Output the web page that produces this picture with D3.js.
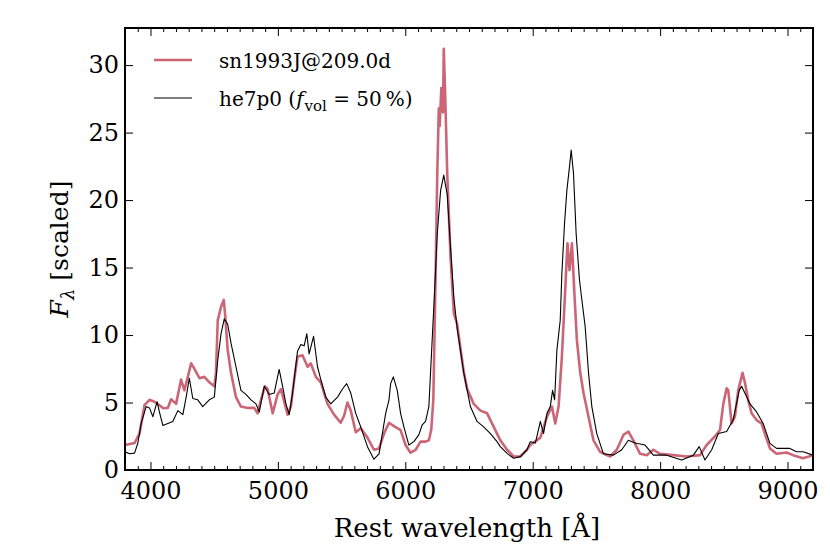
<!DOCTYPE html>
<html>
<head>
<meta charset="utf-8">
<script src="https://cdn.jsdelivr.net/npm/d3@7"></script>
<style>
    body { margin: 0; background: #fff; }
    svg text { font-family: "DejaVu Serif", serif; fill: #000; }
</style>
</head>
<body>
<svg id="chart" width="830" height="554"></svg>
<script>
/*global d3*/
var obsWave = [3800, 3875, 3914, 3953, 3992, 4031, 4070, 4100, 4136, 4162, 4201, 4240, 4266, 4293, 4319, 4345,
    4384, 4423, 4462, 4501, 4514, 4528, 4554, 4575, 4587, 4606, 4632, 4671, 4710, 4763, 4814, 4841, 4867,
    4898, 4919, 4959, 4998, 5024, 5076, 5102, 5128, 5154, 5193, 5233, 5258, 5298, 5337, 5389, 5441, 5493,
    5519, 5546, 5572, 5611, 5650, 5703, 5754, 5794, 5833, 5872, 5911, 5963, 6002, 6041, 6081, 6120, 6159,
    6185, 6204, 6220, 6237, 6251, 6263, 6270, 6283, 6296, 6302, 6314, 6329, 6355, 6381, 6407, 6433, 6460,
    6486, 6537, 6590, 6642, 6694, 6746, 6799, 6850, 6903, 6955, 6981, 7060, 7112, 7151, 7177, 7203, 7229,
    7255, 7273, 7289, 7308, 7326, 7347, 7373, 7399, 7438, 7477, 7529, 7581, 7608, 7660, 7712, 7751, 7790,
    7843, 7895, 7947, 7999, 8104, 8209, 8313, 8365, 8431, 8470, 8496, 8522, 8535, 8561, 8587, 8613, 8647,
    8665, 8691, 8718, 8757, 8796, 8822, 8862, 8914, 8992, 9044, 9122, 9200];
var obsFlux = [1.85, 2.0, 2.7, 4.8, 5.2, 5.06, 4.8, 4.57, 4.6, 5.24, 4.9, 6.7, 5.9, 6.9, 7.9, 7.5,
    6.8, 6.9, 6.5, 6.2, 7.2, 11.1, 12.1, 12.6, 11.4, 8.9, 7.2, 5.4, 4.7, 4.6, 4.6, 4.2, 5.2,
    6.2, 6.0, 4.2, 5.6, 6.0, 4.1, 4.7, 6.7, 8.4, 8.5, 7.65, 7.9, 6.9, 6.5, 4.9, 4.1, 3.5,
    4.0, 5.0, 4.4, 2.8, 3.1, 2.4, 1.5, 1.6, 2.7, 3.5, 3.25, 2.96, 1.85, 1.28, 1.5, 2.1, 2.1,
    2.2, 3.0, 5.2, 14.0, 22.0, 26.8, 25.5, 28.3, 26.5, 31.2, 27.5, 22.0, 15.8, 11.6, 10.8, 9.0, 7.2,
    6.0, 4.9, 4.4, 4.2, 3.2, 2.2, 1.5, 1.0, 1.0, 1.5, 1.85, 2.4, 3.95, 4.7, 3.45, 4.7, 8.4,
    13.3, 16.8, 14.8, 16.8, 13.3, 9.6, 7.2, 5.7, 3.95, 2.2, 1.35, 1.1, 1.0, 1.5, 2.6, 2.85, 2.2,
    1.2, 1.1, 1.5, 1.2, 1.1, 1.0, 1.1, 1.85, 2.5, 2.96, 4.9, 6.05, 5.9, 3.45, 3.95, 5.9, 7.2,
    6.5, 5.2, 4.2, 3.7, 3.45, 2.7, 1.6, 1.2, 1.3, 1.1, 0.87, 1.1];

var modWave = [3800, 3836, 3875, 3901, 3927, 3966, 3992, 4019, 4052, 4070, 4097, 4136, 4175, 4215, 4254, 4280,
    4305, 4332, 4371, 4410, 4462, 4501, 4528, 4554, 4579, 4606, 4632, 4671, 4710, 4749, 4789, 4828, 4854,
    4893, 4932, 4971, 5010, 5037, 5063, 5089, 5115, 5154, 5180, 5206, 5227, 5245, 5280, 5311, 5337, 5376,
    5415, 5468, 5507, 5540, 5572, 5611, 5650, 5703, 5754, 5794, 5820, 5846, 5872, 5885, 5906, 5937, 5963,
    5989, 6028, 6067, 6106, 6133, 6159, 6185, 6198, 6224, 6251, 6277, 6302, 6329, 6355, 6381, 6407, 6459,
    6511, 6563, 6615, 6668, 6720, 6746, 6799, 6850, 6903, 6955, 6981, 7021, 7060, 7085, 7112, 7138, 7156,
    7172, 7190, 7216, 7229, 7250, 7268, 7289, 7302, 7320, 7341, 7367, 7386, 7412, 7438, 7464, 7503, 7555,
    7634, 7699, 7751, 7804, 7882, 7947, 8052, 8169, 8261, 8307, 8352, 8405, 8457, 8522, 8573, 8621, 8640,
    8665, 8705, 8757, 8809, 8862, 8914, 9018, 9071, 9122, 9200];
var modFlux = [1.35, 1.2, 1.25, 2.0, 3.45, 4.7, 4.6, 3.95, 5.06, 4.3, 3.3, 3.45, 3.6, 4.4, 4.1, 5.4,
    6.8, 5.3, 5.2, 4.7, 5.2, 5.4, 8.15, 10.1, 11.2, 10.8, 9.4, 7.65, 5.9, 5.6, 5.2, 4.9, 4.3,
    6.2, 5.6, 5.7, 7.45, 6.2, 4.9, 4.1, 5.7, 8.8, 9.3, 9.2, 10.1, 8.6, 9.9, 7.65, 6.7, 5.4,
    4.9, 5.4, 6.0, 6.4, 5.7, 4.2, 3.2, 1.73, 0.8, 1.2, 2.7, 4.2, 5.2, 6.4, 6.9, 5.9, 4.2,
    3.2, 1.85, 2.1, 2.6, 3.35, 3.6, 4.7, 7.2, 12.1, 17.5, 20.7, 21.85, 20.4, 16.5, 12.8, 10.5, 7.2,
    4.7, 3.6, 3.2, 2.7, 2.1, 1.73, 1.23, 0.87, 0.99, 1.5, 2.1, 2.0, 3.6, 2.7, 4.2, 4.7, 5.9,
    5.2, 8.9, 11.1, 14.6, 18.3, 20.7, 22.5, 23.7, 22.0, 17.5, 14.1, 12.6, 10.6, 7.2, 4.7, 2.7, 1.2,
    1.1, 1.5, 2.2, 2.0, 1.85, 1.1, 1.1, 0.74, 1.1, 1.73, 0.74, 1.5, 2.7, 2.85, 3.7, 5.9, 6.2,
    5.7, 4.9, 4.3, 3.45, 1.97, 1.6, 1.6, 1.35, 1.35, 1.1];

var xTicks = [4000, 5000, 6000, 7000, 8000, 9000];
var yTicks = [0, 5, 10, 15, 20, 25, 30];

(function (d3) {
    'use strict';

    var OBS_COLOR = '#cc6677',
        svg = d3.select('#chart'),
        left = 125,
        right = 813,
        top = 28,
        bottom = 470,
        x = d3.scaleLinear().domain([3800, 9200]).range([left, right]),
        y = d3.scaleLinear().domain([0, 32.75]).range([bottom, top]),
        minorX = d3.range(3800, 9201, 100).filter(function (v) { return v % 1000 !== 0; }),
        plot,
        line,
        legend,
        label;

    function zip(xs, ys) {
        return xs.map(function (v, i) { return [v, ys[i]]; });
    }

    svg.append('clipPath').attr('id', 'clip')
        .append('rect')
        .attr('x', left).attr('y', top)
        .attr('width', right - left).attr('height', bottom - top);

    line = d3.line()
        .x(function (d) { return x(d[0]); })
        .y(function (d) { return y(d[1]); });

    plot = svg.append('g').attr('clip-path', 'url(#clip)');
    plot.append('path')
        .datum(zip(obsWave, obsFlux))
        .attr('d', line)
        .attr('fill', 'none')
        .attr('stroke', OBS_COLOR)
        .attr('stroke-width', 2.6)
        .attr('stroke-linejoin', 'round');
    plot.append('path')
        .datum(zip(modWave, modFlux))
        .attr('d', line)
        .attr('fill', 'none')
        .attr('stroke', '#000')
        .attr('stroke-width', 1.1)
        .attr('stroke-linejoin', 'round');

    // axes, ticks pointing inwards on all four sides
    svg.append('g').attr('transform', 'translate(0,' + bottom + ')')
        .call(d3.axisBottom(x).tickValues(xTicks).tickSize(-8).tickPadding(12).tickFormat(d3.format('d')));
    svg.append('g').attr('transform', 'translate(0,' + bottom + ')')
        .call(d3.axisBottom(x).tickValues(minorX).tickSize(-4).tickFormat(''));
    svg.append('g').attr('transform', 'translate(0,' + top + ')')
        .call(d3.axisTop(x).tickValues(xTicks).tickSize(-8).tickFormat(''));
    svg.append('g').attr('transform', 'translate(0,' + top + ')')
        .call(d3.axisTop(x).tickValues(minorX).tickSize(-4).tickFormat(''));
    svg.append('g').attr('transform', 'translate(' + left + ',0)')
        .call(d3.axisLeft(y).tickValues(yTicks).tickSize(-8).tickPadding(6));
    svg.append('g').attr('transform', 'translate(' + right + ',0)')
        .call(d3.axisRight(y).tickValues(yTicks).tickSize(-8).tickFormat(''));

    svg.selectAll('.domain').remove();
    svg.selectAll('.tick line').attr('stroke', '#000').attr('stroke-width', 1);
    svg.selectAll('.tick text').attr('font-size', 24).attr('font-family', '"DejaVu Serif", serif');

    svg.append('rect')
        .attr('x', left).attr('y', top)
        .attr('width', right - left).attr('height', bottom - top)
        .attr('fill', 'none')
        .attr('stroke', '#000')
        .attr('stroke-width', 2);

    svg.append('text')
        .attr('x', 467)
        .attr('y', 537)
        .attr('text-anchor', 'middle')
        .attr('font-size', 26)
        .text('Rest wavelength [\u00C5]');

    label = svg.append('text')
        .attr('transform', 'translate(68,' + ((top + bottom) / 2) + ') rotate(-90)')
        .attr('text-anchor', 'middle')
        .attr('font-size', 25);
    label.append('tspan').attr('font-style', 'italic').text('F');
    label.append('tspan').attr('font-size', 18).attr('dy', 6).attr('font-style', 'italic').text('\u03BB');
    label.append('tspan').attr('dy', -6).text(' [scaled]');

    legend = svg.append('g');
    legend.append('line')
        .attr('x1', 154).attr('x2', 192).attr('y1', 60).attr('y2', 60)
        .attr('stroke', OBS_COLOR).attr('stroke-width', 2.6);
    legend.append('line')
        .attr('x1', 154).attr('x2', 192).attr('y1', 98).attr('y2', 98)
        .attr('stroke', '#000').attr('stroke-width', 1.1);
    legend.append('text')
        .attr('x', 219).attr('y', 68)
        .attr('font-size', 20)
        .text('sn1993J@209.0d');
    label = legend.append('text')
        .attr('x', 219).attr('y', 106)
        .attr('font-size', 20);
    label.append('tspan').text('he7p0 (');
    label.append('tspan').attr('font-style', 'italic').text('f');
    label.append('tspan').attr('font-size', 15).attr('dy', 5).attr('dx', 1).text('vol');
    label.append('tspan').attr('dy', -5).text(' = 50\u2009%)');
}(window.d3));
</script>
</body>
</html>
